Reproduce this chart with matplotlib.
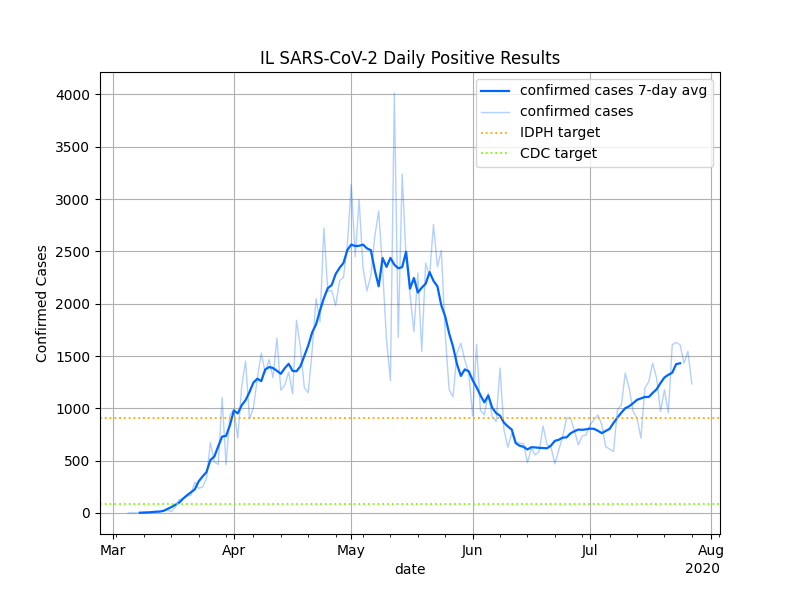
"""IL SARS-CoV-2 daily positive results, 2020"""
import matplotlib
matplotlib.use('Agg')
import matplotlib.pyplot as plt
import matplotlib.dates as mdates
import pandas as pd

# daily new confirmed cases, Mar 5 .. Jul 27 2020
mar = [1, 1, 0, 1, 4, 8, 6, 7, 14, 18, 29, 12, 55, 128, 134, 163, 168, 296,
       236, 250, 330, 673, 488, 465, 1105, 461, 937]
apr = [986, 715, 1209, 1453, 899, 1006, 1287, 1529, 1344, 1465,
       1293, 1672, 1173, 1222, 1346, 1140, 1842, 1585, 1197, 1151,
       1551, 2049, 1826, 2724, 2119, 2126, 1980, 2219, 2253, 2563]
may = [3137, 2450, 2994, 2341, 2122, 2270, 2641, 2887, 2325, 1656,
       1266, 4014, 1677, 3239, 2432, 2088, 1734, 2294, 1545, 2388,
       2268, 2758, 2352, 2508, 1713, 1178, 1111, 1527, 1622, 1462,
       1343]
jun = [929, 1614, 982, 938, 1145, 922, 874, 1385, 794, 628,
       762, 682, 667, 660, 482, 619, 555, 587, 832, 651,
       634, 469, 603, 730, 906, 906, 794, 651, 737, 746]
jul = [842, 890, 938, 842, 634, 610, 587, 986, 1033, 1337,
       1193, 970, 906, 715, 1193, 1257, 1432, 1289, 970, 1177,
       960, 1608, 1630, 1608, 1432, 1544, 1234]

idph_target = 910
cdc_target = 90

dates = pd.date_range('2020-03-05', periods=len(mar + apr + may + jun + jul), freq='D')
cases = pd.Series(mar + apr + may + jun + jul, index=dates)
avg7 = cases.rolling(7, center=True).mean()

fig, ax = plt.subplots(figsize=(8, 6), dpi=100)
l2, = ax.plot(cases.index, cases.values, color='#0066ff', alpha=0.3, lw=1,
              label='confirmed cases')
l1, = ax.plot(avg7.index, avg7.values, color='#0066ff', lw=1.6,
              label='confirmed cases 7-day avg')
l3 = ax.axhline(idph_target, color='orange', ls=':', lw=1.3, label='IDPH target')
l4 = ax.axhline(cdc_target, color='#7cfc00', ls=':', lw=1.3, label='CDC target')

loc = mdates.MonthLocator()
ax.xaxis.set_major_locator(loc)
ax.xaxis.set_major_formatter(mdates.ConciseDateFormatter(loc))
ax.xaxis.set_minor_locator(mdates.WeekdayLocator(byweekday=mdates.MO))

ax.set_title('IL SARS-CoV-2 Daily Positive Results')
ax.set_xlabel('date')
ax.set_ylabel('Confirmed Cases')
ax.grid(True)
ax.legend(handles=[l1, l2, l3, l4], loc='upper right')

plt.savefig('out.png')
